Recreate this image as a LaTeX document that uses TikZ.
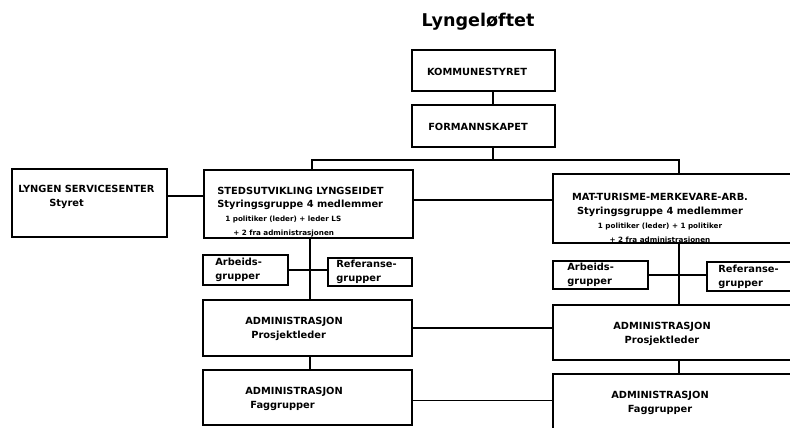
\documentclass[tikz,border=0pt]{standalone}
\usepackage{fontspec}
\setmainfont{DejaVu Sans}
\usepackage{tikz}
\newcommand\tinytxt{\fontsize{4.1}{7.3}\selectfont}
\tikzset{
  box/.style={draw, line width=1.1pt, inner sep=0pt},
  txt/.style={font=\bfseries\fontsize{5.6}{7.9}\selectfont, inner sep=0pt, align=left},
  link/.style={line width=.7pt}
}

\begin{document}
\begin{tikzpicture}[x=0.02cm, y=-0.02cm]
\useasboundingbox (0,0) rectangle (790,427);
\node[font=\bfseries\fontsize{10}{12}\selectfont] (title) at (478,22) {Lyngeløftet};
\node[box, minimum width=2.86cm, minimum height=.82cm] (komm) at (483.5,70.5) {};
\node[box, minimum width=2.86cm, minimum height=.84cm] (forman) at (483.5,126) {};
\node[box, minimum width=3.1cm, minimum height=1.36cm] (lyngen) at (89.5,203) {};
\node[box, minimum width=4.18cm, minimum height=1.36cm] (sted) at (308.5,204) {};
\node[box, minimum width=4.94cm, minimum height=1.38cm] (mat) at (676.5,208.5) {};
\node[box, minimum width=1.7cm, minimum height=.6cm] (arb1) at (245.5,270) {};
\node[box, minimum width=1.68cm, minimum height=.56cm] (ref1) at (370,272) {};
\node[box, minimum width=1.9cm, minimum height=.56cm] (arb2) at (600.5,275) {};
\node[box, minimum width=1.86cm, minimum height=.58cm] (ref2) at (753.5,276.5) {};
\node[box, minimum width=4.18cm, minimum height=1.12cm] (pro1) at (307.5,328) {};
\node[box, minimum width=4.18cm, minimum height=1.1cm] (fag1) at (307.5,397.5) {};
\node[box, minimum width=4.94cm, minimum height=1.1cm] (pro2) at (676.5,332.5) {};
\node[box, minimum width=4.94cm, minimum height=1.22cm] (fag2) at (676.5,404.5) {};

\node[txt] (komm-t) at (477,72) {KOMMUNESTYRET};
\node[txt] (forman-t) at (478,127) {FORMANNSKAPET};
\node[txt, anchor=west] (lyngen-t) at (18,197) {LYNGEN SERVICESENTER\\\hspace*{.62cm}Styret};
\node[txt, anchor=west] (sted-t) at (217,212) {STEDSUTVIKLING LYNGSEIDET\\Styringsgruppe 4 medlemmer\\\hspace*{.16cm}{\tinytxt 1 politiker (leder) + leder LS}\\\hspace*{.32cm}{\tinytxt + 2 fra administrasjonen}};
\node[txt, align=center] (mat-t) at (660,218.5) {MAT-TURISME-MERKEVARE-ARB.\\Styringsgruppe 4 medlemmer\\{\tinytxt 1 politiker (leder) + 1 politiker}\\{\tinytxt + 2 fra administrasjonen}};
\node[txt, anchor=west] (arb1-t) at (215,270) {Arbeids-\\grupper};
\node[txt, anchor=west] (ref1-t) at (336,271.5) {Referanse-\\grupper};
\node[txt, anchor=west] (arb2-t) at (567,275) {Arbeids-\\grupper};
\node[txt, anchor=west] (ref2-t) at (718,276.5) {Referanse-\\grupper};
\node[txt, anchor=west] (pro1-t) at (245,329) {ADMINISTRASJON\\\hspace*{.12cm}Prosjektleder};
\node[txt, anchor=west] (fag1-t) at (245,399) {ADMINISTRASJON\\\hspace*{.1cm}Faggrupper};
\node[txt, align=center] (pro2-t) at (662,334) {ADMINISTRASJON\\Prosjektleder};
\node[txt, align=center] (fag2-t) at (660,403) {ADMINISTRASJON\\Faggrupper};

\coordinate (split) at (493,160);
\coordinate (lspine) at (310,250);
\coordinate (rspine) at (679,250);
\draw[link] (komm.south -| split) -- (forman.north -| split);
\draw[link] (forman.south -| split) -- (split);
\draw[link] (sted.north -| 312,0) |- (split) -| (mat.north -| rspine);
\draw[link] ([yshift=.14cm]lyngen.east) -- ([yshift=.14cm]lyngen.east -| sted.west);
\draw[link] ([yshift=.08cm]sted.east) -- ([yshift=.08cm]sted.east -| mat.west);
\draw[link] (sted.south -| lspine) -- (pro1.north -| lspine);
\draw[link] (pro1.south -| lspine) -- (fag1.north -| lspine);
\draw[link] (arb1.east) -- (arb1.east -| ref1.west);
\draw[link] (mat.south -| rspine) -- (pro2.north -| rspine);
\draw[link] (pro2.south -| rspine) -- (fag2.north -| rspine);
\draw[link] (arb2.east) -- (arb2.east -| ref2.west);
\draw[link] (pro1.east) -- (pro1.east -| pro2.west);
\draw[link] ([yshift=-.06cm]fag1.east) -- ([yshift=-.06cm]fag1.east -| fag2.west);
\end{tikzpicture}
\end{document}
